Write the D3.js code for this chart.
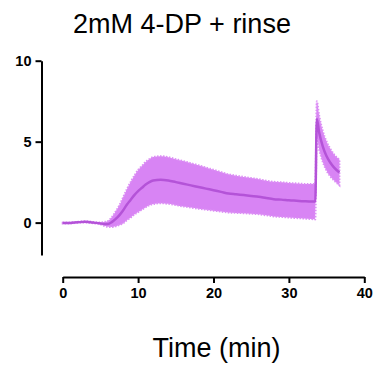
<!DOCTYPE html>
<html><head><meta charset="utf-8">
<script src="https://cdn.jsdelivr.net/npm/d3@7"></script>
<style>body{margin:0;background:#fff}svg{display:block}</style>
</head><body>
<script>
const title = "2mM 4-DP + rinse";
const xLabel = "Time (min)";
const xTicks = [0, 10, 20, 30, 40];
const yTicks = [0, 5, 10];
const time = [0,1,2,3,4,5,5.5,6,6.5,7,7.5,8,8.5,9,9.5,10,10.5,11,11.5,12,13,14,15,16,17,18,19,20,21,22,23,24,25,26,27,28,29,30,31,32,33,33.5,33.7,34,34.5,35,35.5,36,36.7];
const mean = [-0.03,-0.02,0.02,0.05,0,-0.05,-0.08,-0.08,0.03,0.22,0.45,0.75,1.1,1.4,1.7,1.95,2.15,2.35,2.5,2.6,2.65,2.6,2.5,2.4,2.3,2.2,2.1,2.0,1.9,1.8,1.75,1.7,1.65,1.6,1.52,1.45,1.42,1.38,1.35,1.32,1.3,1.3,6.4,5.6,4.7,4.1,3.7,3.4,3.1];
const sem = [0.03,0.03,0.03,0.04,0.04,0.06,0.12,0.18,0.3,0.45,0.6,0.8,0.95,1.1,1.2,1.3,1.35,1.4,1.42,1.45,1.45,1.44,1.42,1.4,1.37,1.34,1.3,1.26,1.22,1.18,1.15,1.12,1.1,1.08,1.07,1.07,1.07,1.07,1.07,1.07,1.08,1.1,1.1,1.05,0.95,0.9,0.85,0.8,0.8];

const W = 375, H = 368;
const svg = d3.select("body").append("svg").attr("width", W).attr("height", H);
const x = d3.scaleLinear().domain([0, 40]).range([62.7, 364.3]);
const y = d3.scaleLinear().domain([-2, 10]).range([255, 60.7]);
const data = time.map((t, i) => ({t, m: mean[i], s: sem[i]}));

svg.append("path").datum(data)
  .attr("fill", "#d884f4")
  .attr("stroke", "#dc8ff5").attr("stroke-width", 2).attr("stroke-dasharray", "1.5,1.5")
  .attr("d", d3.area().x(d => x(d.t)).y0(d => y(d.m - d.s)).y1(d => y(d.m + d.s)).curve(d3.curveMonotoneX));
svg.append("path").datum(data)
  .attr("fill", "none").attr("stroke", "#b453d8").attr("stroke-width", 2.5)
  .attr("d", d3.line().x(d => x(d.t)).y(d => y(d.m)).curve(d3.curveMonotoneX));

const yAxis = svg.append("g").attr("transform", "translate(41.5,0)")
  .call(d3.axisLeft(y).tickValues(yTicks).tickSize(6).tickSizeOuter(0).tickPadding(4));
const xAxis = svg.append("g").attr("transform", "translate(0,277)")
  .call(d3.axisBottom(x).tickValues(xTicks).tickSize(6).tickSizeOuter(0).tickPadding(5));
[yAxis, xAxis].forEach(g => {
  g.selectAll("path,line").attr("stroke", "#000").attr("stroke-width", 2);
  g.selectAll("text").attr("fill", "#000").style("font-family", "Liberation Sans, Arial, sans-serif")
    .style("font-size", "14.5px").style("font-weight", "bold");
});

svg.append("text").attr("x", 182).attr("y", 33).attr("text-anchor", "middle")
  .style("font-family", "Liberation Sans, Arial, sans-serif").style("font-size", "27px").text(title);
svg.append("text").attr("x", 216.5).attr("y", 357).attr("text-anchor", "middle")
  .style("font-family", "Liberation Sans, Arial, sans-serif").style("font-size", "27px").text(xLabel);
</script>
</body></html>
